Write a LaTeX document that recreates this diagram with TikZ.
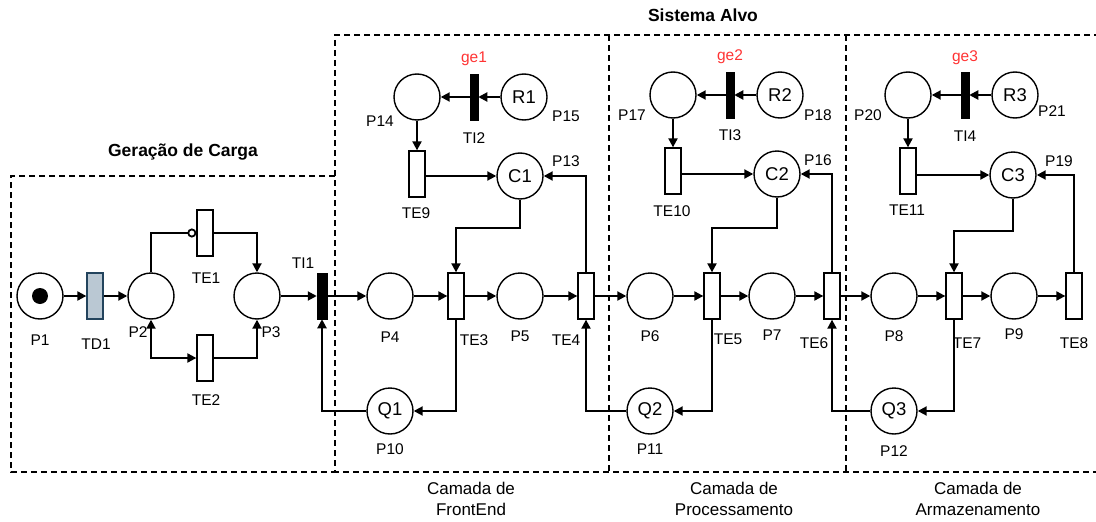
\documentclass[tikz,border=0pt]{standalone}
\usepackage{fontspec}
\setmainfont{Liberation Sans}
\usetikzlibrary{arrows.meta}
\definecolor{gered}{RGB}{255,51,51}
\definecolor{tdfill}{RGB}{186,200,211}
\definecolor{tdline}{RGB}{35,68,93}
\begin{document}
\begin{tikzpicture}[x=1pt,y=-1pt,
  place/.style={circle,draw,line width=1.4pt,minimum size=46pt,inner sep=0pt,font=\fontsize{18.5}{20}\selectfont},
  trans/.style={rectangle,draw,line width=1.3pt,minimum width=16pt,minimum height=46pt,inner sep=0pt},
  bar/.style={rectangle,fill=black,draw=black,line width=0.5pt,minimum width=8pt,minimum height=46pt,inner sep=0pt},
  lbl/.style={font=\fontsize{15.5}{17}\selectfont,inner sep=0pt},
  gelbl/.style={font=\fontsize{15.5}{17}\selectfont,text=gered,inner sep=0pt},
  layer/.style={font=\fontsize{17}{21}\selectfont,align=center,inner sep=0pt},
  title/.style={font=\bfseries\fontsize{17.5}{19}\selectfont,inner sep=0pt},
  arc/.style={line width=2pt,-{Triangle[length=9pt,width=9pt]}},
  inh/.style={line width=2pt,-{Circle[open,length=9pt,width=9pt,line width=1.8pt]}},
  box/.style={line width=2pt,dash pattern=on 6pt off 4pt}
]
\useasboundingbox (0,0) rectangle (1096,522);
% dashed frames
\draw[box] (335,176) -- (11,176) -- (11,472) -- (335,472);
\draw[box] (1100,35) -- (335,35) -- (335,472) -- (1100,472);
\draw[box] (609,35) -- (609,472);
\draw[box] (846,35) -- (846,472);
% titles
\node[title] (tGC) at (183,152) {Geração de Carga};
\node[title] (tSA) at (703,15) {Sistema Alvo};
\node[layer] (tFE) at (471,499) {Camada de\\FrontEnd};
\node[layer] (tPR) at (734,499) {Camada de\\Processamento};
\node[layer] (tAR) at (978,499) {Camada de\\Armazenamento};
% load generation
\node[place] (P1) at (40,296) {};
\fill (P1.center) circle (8pt);
\node[trans,fill=tdfill,draw=tdline] (TD1) at (95,296) {};
\node[place] (P2) at (151,296) {};
\node[place] (P3) at (257,296) {};
\node[trans] (TE1) at (205,233) {};
\node[trans] (TE2) at (205,358) {};
\node[bar,minimum width=10pt] (TI1) at (322,296) {};
% front end
\node[place] (P4) at (390,296) {};
\node[trans] (TE3) at (456,296) {};
\node[place] (P5) at (520,296) {};
\node[trans] (TE4) at (586,296) {};
\node[place] (Q1) at (390,411) {Q1};
\node[place] (P14) at (417,97) {};
\node[bar] (TI2) at (474,97) {};
\node[place] (R1) at (524,97) {R1};
\node[trans] (TE9) at (417,174) {};
\node[place] (C1) at (520,176) {C1};
% processing
\node[place] (P6) at (650,296) {};
\node[trans] (TE5) at (712,296) {};
\node[place] (P7) at (772,296) {};
\node[trans] (TE6) at (832,296) {};
\node[place] (Q2) at (650,411) {Q2};
\node[place] (P17) at (673,95) {};
\node[bar] (TI3) at (730,95) {};
\node[place] (R2) at (780,95) {R2};
\node[trans] (TE10) at (673,171) {};
\node[place] (C2) at (777,174) {C2};
% storage
\node[place] (P8) at (894,296) {};
\node[trans] (TE7) at (954,296) {};
\node[place] (P9) at (1014,296) {};
\node[trans] (TE8) at (1074,296) {};
\node[place] (Q3) at (894,411) {Q3};
\node[place] (P20) at (908,95) {};
\node[bar] (TI4) at (965,95) {};
\node[place] (R3) at (1015,95) {R3};
\node[trans] (TE11) at (908,171) {};
\node[place] (C3) at (1013,175) {C3};
% labels
\node[lbl] (lP1) at (40,340) {P1};
\node[lbl] (lTD1) at (96,344) {TD1};
\node[lbl] (lP2) at (138,332) {P2};
\node[lbl] (lP3) at (271,332) {P3};
\node[lbl] (lTE1) at (206,278) {TE1};
\node[lbl] (lTE2) at (206,400) {TE2};
\node[lbl] (lTI1) at (303,263) {TI1};
\node[lbl] (lP4) at (390,337) {P4};
\node[lbl] (lTE3) at (474,340) {TE3};
\node[lbl] (lP5) at (520,336) {P5};
\node[lbl] (lTE4) at (566,340) {TE4};
\node[lbl] (lP10) at (390,449) {P10};
\node[lbl] (lP14) at (380,121) {P14};
\node[lbl] (lTI2) at (474,138) {TI2};
\node[lbl] (lP15) at (566,116) {P15};
\node[gelbl] (lge1) at (474,59) {ge1};
\node[lbl] (lTE9) at (416,213) {TE9};
\node[lbl] (lP13) at (566,161) {P13};
\node[lbl] (lP6) at (650,336) {P6};
\node[lbl] (lTE5) at (728,339) {TE5};
\node[lbl] (lP7) at (772,335) {P7};
\node[lbl] (lTE6) at (814,343) {TE6};
\node[lbl] (lP11) at (650,449) {P11};
\node[lbl] (lP17) at (632,115) {P17};
\node[lbl] (lTI3) at (730,135) {TI3};
\node[lbl] (lP18) at (818,115) {P18};
\node[gelbl] (lge2) at (730,57) {ge2};
\node[lbl] (lTE10) at (672,211) {TE10};
\node[lbl] (lP16) at (818,160) {P16};
\node[lbl] (lP8) at (894,336) {P8};
\node[lbl] (lTE7) at (967,343) {TE7};
\node[lbl] (lP9) at (1014,334) {P9};
\node[lbl] (lTE8) at (1074,343) {TE8};
\node[lbl] (lP12) at (894,451) {P12};
\node[lbl] (lP20) at (868,115) {P20};
\node[lbl] (lTI4) at (965,136) {TI4};
\node[lbl] (lP21) at (1052,111) {P21};
\node[gelbl] (lge3) at (965,58) {ge3};
\node[lbl] (lTE11) at (907,210) {TE11};
\node[lbl] (lP19) at (1059,161) {P19};
% arcs: load generation
\draw[arc] (P1) -- (TD1);
\draw[arc] (TD1) -- (P2);
\draw[inh] (P2.north) |- (TE1.west);
\draw[arc] (TE1.east) -| (P3.north);
\draw[arc,{Triangle[length=9pt,width=9pt]}-{Triangle[length=9pt,width=9pt]}] (P2.south) |- (TE2.west);
\draw[arc] (TE2.east) -| (P3.south);
\draw[arc] (P3) -- (TI1);
% main chain
\draw[arc] (TI1) -- (P4);
\draw[arc] (P4) -- (TE3);
\draw[arc] (TE3) -- (P5);
\draw[arc] (P5) -- (TE4);
\draw[arc] (TE4) -- (P6);
\draw[arc] (P6) -- (TE5);
\draw[arc] (TE5) -- (P7);
\draw[arc] (P7) -- (TE6);
\draw[arc] (TE6) -- (P8);
\draw[arc] (P8) -- (TE7);
\draw[arc] (TE7) -- (P9);
\draw[arc] (P9) -- (TE8);
% queues
\draw[arc] (TE3.south) |- (Q1.east);
\draw[arc] (Q1.west) -| (TI1.south);
\draw[arc] (TE5.south) |- (Q2.east);
\draw[arc] (Q2.west) -| (TE4.south);
\draw[arc] (TE7.south) |- (Q3.east);
\draw[arc] (Q3.west) -| (TE6.south);
% resources
\draw[arc] (R1) -- (TI2);
\draw[arc] (TI2) -- (P14);
\draw[arc] (P14.south) -- (TE9.north);
\draw[arc] (TE9.east |- C1.west) -- (C1.west);
\draw[arc] (C1.south) -- ++(0,28) -| (TE3.north);
\draw[arc] (TE4.north) |- (C1.east);
\draw[arc] (R2) -- (TI3);
\draw[arc] (TI3) -- (P17);
\draw[arc] (P17.south) -- (TE10.north);
\draw[arc] (TE10.east |- C2.west) -- (C2.west);
\draw[arc] (C2.south) -- ++(0,30) -| (TE5.north);
\draw[arc] (TE6.north) |- (C2.east);
\draw[arc] (R3) -- (TI4);
\draw[arc] (TI4) -- (P20);
\draw[arc] (P20.south) -- (TE11.north);
\draw[arc] (TE11.east |- C3.west) -- (C3.west);
\draw[arc] (C3.south) -- ++(0,32) -| (TE7.north);
\draw[arc] (TE8.north) |- (C3.east);
\end{tikzpicture}
\end{document}
